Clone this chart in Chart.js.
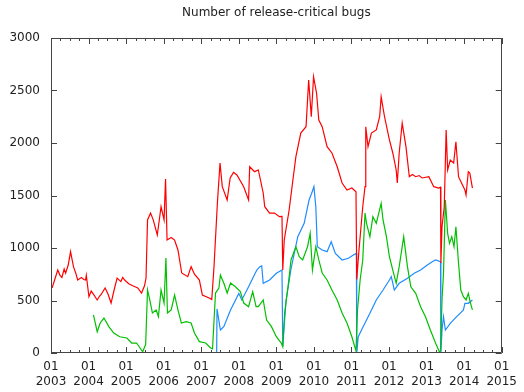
<!DOCTYPE html>
<html>
<head>
<meta charset="utf-8">
<script src="https://cdn.jsdelivr.net/npm/chart.js@4"></script>
<style>
  body { margin: 0; background: #fff; }
  #wrap { width: 524px; height: 392px; }
</style>
</head>
<body>
<div id="wrap"><canvas id="rcChart" width="524" height="392"></canvas></div>
<script>
// release-critical bug counts, x = decimal year
const redYears = [2003.03, 2003.10, 2003.18, 2003.24, 2003.29, 2003.35, 2003.39, 2003.46, 2003.52, 2003.60, 2003.66, 2003.71, 2003.81, 2003.87, 2003.92, 2003.94,
    2004.01, 2004.07, 2004.13, 2004.23, 2004.29, 2004.34, 2004.44, 2004.52, 2004.60, 2004.68, 2004.76, 2004.86, 2004.91, 2004.96,
    2005.07, 2005.19, 2005.31, 2005.41, 2005.49, 2005.53, 2005.57, 2005.65, 2005.72, 2005.83, 2005.93,
    2006.01, 2006.05, 2006.09, 2006.20, 2006.29, 2006.38, 2006.48, 2006.64, 2006.73, 2006.82, 2006.95,
    2007.03, 2007.21, 2007.28, 2007.34, 2007.43, 2007.50, 2007.56, 2007.69, 2007.77, 2007.86, 2007.95,
    2008.13, 2008.26, 2008.29, 2008.42, 2008.52, 2008.65, 2008.69, 2008.82, 2008.95,
    2009.08, 2009.15, 2009.17, 2009.21, 2009.34, 2009.44, 2009.52, 2009.65, 2009.79, 2009.86, 2009.93, 2009.99,
    2010.07, 2010.13, 2010.22, 2010.35, 2010.48, 2010.62, 2010.75, 2010.88,
    2011.01, 2011.12, 2011.14, 2011.20, 2011.30, 2011.36, 2011.38, 2011.44, 2011.53, 2011.66, 2011.75, 2011.79, 2011.88,
    2012.01, 2012.10, 2012.19, 2012.22, 2012.27, 2012.35, 2012.45, 2012.54, 2012.62, 2012.71, 2012.80, 2012.88,
    2013.06, 2013.19, 2013.32, 2013.37, 2013.38, 2013.41, 2013.47, 2013.52, 2013.56, 2013.63, 2013.72, 2013.78, 2013.85, 2013.93,
    2014.02, 2014.05, 2014.11, 2014.15, 2014.22];
const redBugs = [620, 700, 790, 740, 720, 800, 760, 840, 965, 820, 760, 695, 720, 700, 695, 740,
    536, 590, 560, 505, 540, 560, 620, 560, 476, 600, 714, 680, 720, 695,
    660, 638, 620, 571, 640, 714, 1267, 1333, 1270, 1124, 1393,
    1267, 1657, 1076, 1100, 1076, 981, 762, 727, 822, 750, 695,
    552, 524, 510, 822, 1428, 1810, 1584, 1457, 1667, 1720, 1695,
    1584, 1457, 1774, 1727, 1743, 1524, 1393, 1333, 1333,
    1298, 1300, 790, 1076, 1362, 1648, 1870, 2095, 2155, 2600, 2250, 2631,
    2476, 2219, 2155, 1965, 1905, 1774, 1619, 1552,
    1571, 1536, 700, 981, 1393, 1584, 2155, 1965, 2095, 2124, 2250, 2441, 2250,
    2029, 1905, 1743, 1619, 1905, 2190, 1965, 1679, 1700, 1679, 1690, 1667,
    1679, 1584, 1571, 1580, 857, 1203, 1393, 2124, 1743, 1838, 1810, 2012, 1679, 1619,
    1552, 1505, 1727, 1714, 1571];

const greenYears = [2004.13, 2004.23, 2004.31, 2004.41, 2004.54, 2004.67, 2004.83,
    2005.02, 2005.15, 2005.28, 2005.44, 2005.52, 2005.57, 2005.63, 2005.70, 2005.80, 2005.86, 2005.93,
    2006.01, 2006.06, 2006.10, 2006.20, 2006.29, 2006.38, 2006.47, 2006.60, 2006.73, 2006.82, 2006.95,
    2007.12, 2007.25, 2007.30, 2007.38, 2007.47, 2007.51, 2007.60, 2007.69, 2007.78, 2007.91,
    2008.04, 2008.13, 2008.26, 2008.37, 2008.46, 2008.52, 2008.65, 2008.74, 2008.87,
    2009.00, 2009.13, 2009.17, 2009.22, 2009.31, 2009.39, 2009.52, 2009.61, 2009.70, 2009.83, 2009.90, 2009.96,
    2010.05, 2010.13, 2010.22, 2010.35, 2010.48, 2010.62, 2010.75, 2010.88,
    2011.01, 2011.12, 2011.16, 2011.23, 2011.30, 2011.36, 2011.40, 2011.49, 2011.57, 2011.66, 2011.79, 2011.84, 2011.93,
    2012.01, 2012.10, 2012.19, 2012.27, 2012.39, 2012.49, 2012.58, 2012.71, 2012.84, 2012.97,
    2013.10, 2013.24, 2013.34, 2013.37, 2013.41, 2013.45, 2013.50, 2013.56, 2013.61, 2013.67, 2013.73, 2013.78, 2013.85, 2013.91, 2013.98,
    2014.05, 2014.11, 2014.17, 2014.22];
const greenBugs = [362, 203, 286, 333, 251, 190, 155,
    143, 95, 95, 12, 80, 600, 505, 381, 410, 346, 600,
    476, 905, 381, 410, 552, 410, 286, 298, 286, 190, 108,
    95, 48, 40, 571, 619, 743, 667, 571, 667, 631,
    584, 476, 441, 584, 441, 441, 505, 314, 251,
    155, 95, 60, 381, 631, 886, 1012, 917, 886, 1012, 1140, 790,
    1012, 886, 762, 695, 600, 505, 381, 286,
    155, 20, 410, 695, 886, 1333, 1235, 1108, 1298, 1235, 1425, 1267, 1108,
    917, 790, 664, 822, 1108, 822, 631, 568, 441, 346,
    219, 92, 12, 20, 505, 759, 1457, 1140, 1044, 1108, 1012, 1203, 854, 600, 536,
    505, 568, 473, 410];

const blueYears = [2007.35, 2007.41, 2007.42, 2007.51, 2007.60, 2007.78, 2008.00, 2008.08, 2008.26, 2008.39,
    2008.48, 2008.56, 2008.61, 2008.65, 2008.82, 2009.00, 2009.15, 2009.17, 2009.22, 2009.26, 2009.39,
    2009.57, 2009.74, 2009.87, 2009.94, 2010.00, 2010.05, 2010.07, 2010.09, 2010.22, 2010.35, 2010.46,
    2010.57, 2010.75, 2010.92, 2011.05, 2011.13, 2011.14, 2011.18, 2011.31, 2011.49, 2011.66, 2011.84,
    2012.01, 2012.06, 2012.14, 2012.27, 2012.49, 2012.67, 2012.84, 2013.02, 2013.15, 2013.24, 2013.37,
    2013.38, 2013.41, 2013.45, 2013.50, 2013.63, 2013.80, 2013.89, 2013.98, 2014.02, 2014.11, 2014.22];
const blueBugs = [0, 0, 420, 219, 251, 410, 568, 505, 631, 727,
    790, 822, 829, 664, 695, 759, 790, 60, 314, 505, 800,
    1108, 1235, 1457, 1521, 1584, 1393, 1203, 1012, 981, 965, 1060,
    949, 886, 902, 933, 949, 0, 155, 251, 378, 505, 600,
    695, 727, 600, 664, 711, 759, 790, 838, 870, 886, 870,
    0, 219, 346, 219, 283, 346, 378, 410, 473, 473, 505];

const yearTicks = [2003, 2004, 2005, 2006, 2007, 2008, 2009, 2010, 2011, 2012, 2013, 2014, 2015];

function pts(xs, ys) {
    return xs.map(function (x, i) { return { x: x, y: ys[i] }; });
}

// gnuplot style frame with inward ticks on all four sides
const frameTicks = {
    id: 'frameTicks',
    afterDraw: function (chart) {
        const ctx = chart.ctx;
        const a = chart.chartArea;
        const xs = chart.scales.x;
        const ys = chart.scales.y;
        ctx.save();
        ctx.strokeStyle = '#444';
        ctx.lineWidth = 1;
        ctx.beginPath();
        ctx.rect(Math.round(a.left) + 0.5, Math.round(a.top) + 0.5,
            Math.round(a.right - a.left) - 1, Math.round(a.bottom - a.top) - 1);
        for (let q = 2003; q <= 2015.001; q += 0.25) {
            const px = Math.round(xs.getPixelForValue(q)) + 0.5;
            const len = Math.abs(q - Math.round(q)) < 0.01 ? 6 : 3;
            ctx.moveTo(px, a.bottom); ctx.lineTo(px, a.bottom - len);
            ctx.moveTo(px, a.top); ctx.lineTo(px, a.top + len);
        }
        for (let v = 0; v <= 3000; v += 500) {
            const py = Math.round(ys.getPixelForValue(v)) + 0.5;
            ctx.moveTo(a.left, py); ctx.lineTo(a.left + 6, py);
            ctx.moveTo(a.right, py); ctx.lineTo(a.right - 6, py);
        }
        ctx.stroke();
        ctx.restore();
    }
};

const font = { family: 'DejaVu Sans', size: 12 };

new Chart(document.getElementById('rcChart'), {
    type: 'line',
    data: {
        datasets: [
            { label: 'red', data: pts(redYears, redBugs), borderColor: '#ff0000' },
            { label: 'green', data: pts(greenYears, greenBugs), borderColor: '#00c000' },
            { label: 'blue', data: pts(blueYears, blueBugs), borderColor: '#1e8cff' }
        ]
    },
    options: {
        responsive: false,
        animation: false,
        elements: {
            line: { borderWidth: 1.2, tension: 0 },
            point: { radius: 0 }
        },
        layout: { padding: { left: 0, right: 0, top: 0, bottom: 0 } },
        plugins: {
            legend: { display: false },
            tooltip: { enabled: false },
            title: {
                display: true,
                text: 'Number of release-critical bugs',
                fullSize: false,
                color: '#222',
                font: { family: 'DejaVu Sans', size: 12, weight: 'normal' },
                padding: { top: 6, bottom: 17.6 }
            }
        },
        scales: {
            x: {
                type: 'linear',
                min: 2003,
                max: 2015,
                afterBuildTicks: function (s) { s.ticks = yearTicks.map(function (v) { return { value: v }; }); },
                afterFit: function (s) { s.height = 39; },
                grid: { display: false, drawTicks: false },
                border: { display: false },
                ticks: {
                    autoSkip: false,
                    maxRotation: 0,
                    padding: 7,
                    color: '#222',
                    font: font,
                    callback: function (v) { return ['01', String(v)]; }
                }
            },
            y: {
                min: 0,
                max: 3000,
                afterFit: function (s) { s.width = 51; },
                grid: { display: false, drawTicks: false },
                border: { display: false },
                ticks: {
                    stepSize: 500,
                    padding: 11,
                    color: '#222',
                    font: font,
                    callback: function (v) { return String(v); }
                }
            }
        }
    },
    plugins: [frameTicks]
});
</script>
</body>
</html>
